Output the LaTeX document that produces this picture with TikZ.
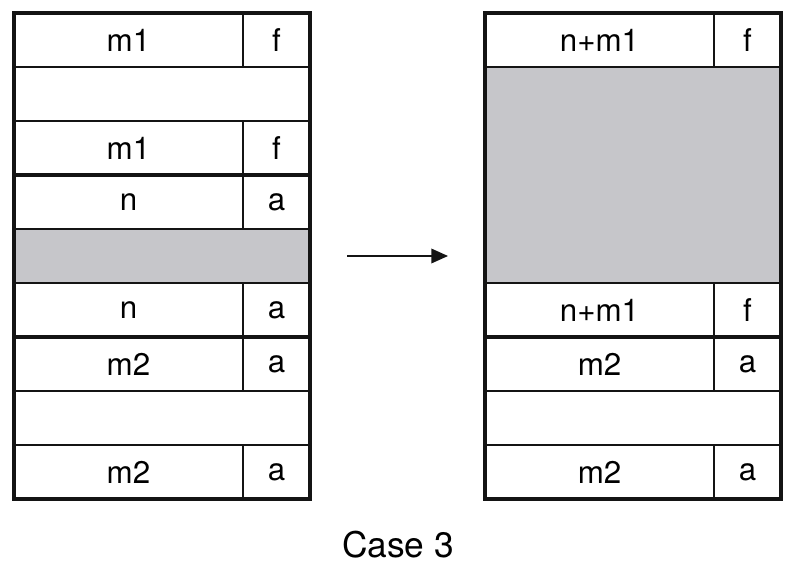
\documentclass[tikz,border=0pt]{standalone}
\usepackage{fontspec}
\setmainfont{TeX Gyre Heros}
\usepackage{xcolor}
\definecolor{memgray}{RGB}{198,198,202}
\definecolor{memline}{RGB}{20,20,20}
\usetikzlibrary{arrows.meta}

\tikzset{
  cell/.style={draw=memline, line width=0.8pt, inner sep=0pt, outer sep=0pt,
    minimum height=40.5pt, anchor=north west, font=\fontsize{23.5}{28}\selectfont},
  sizecell/.style={cell, minimum width=171.75pt},
  flagcell/.style={cell, minimum width=50.25pt},
  gapcell/.style={cell, minimum width=222pt},
  freecell/.style={gapcell, fill=memgray},
  blockline/.style={draw=memline, line width=3pt},
}

\begin{document}
\begin{tikzpicture}[x=0.75pt, y=-0.75pt]
  \useasboundingbox (0,0) rectangle (798,570);

  % --- Left: before merge ---
  % block m1 (free)
  \node[sizecell] (l1) at (14,13) {m1};
  \node[flagcell] (l1f) at (243,13) {f};
  \node[gapcell]  (l2) at (14,67) {};
  \node[sizecell] (l3) at (14,121) {m1};
  \node[flagcell] (l3f) at (243,121) {f};

  % block n (allocated, being freed)
  \node[sizecell] (l4) at (14,175) {n};
  \node[flagcell] (l4f) at (243,175) {a};
  \node[freecell] (l5) at (14,229) {};
  \node[sizecell] (l6) at (14,283) {n};
  \node[flagcell] (l6f) at (243,283) {a};

  % block m2 (allocated)
  \node[sizecell] (l7) at (14,337) {m2};
  \node[flagcell] (l7f) at (243,337) {a};
  \node[gapcell]  (l8) at (14,391) {};
  \node[sizecell] (l9) at (14,445) {m2};
  \node[flagcell] (l9f) at (243,445) {a};

  % block outlines
  \draw[blockline] (l1.north west) rectangle (l3f.south east);
  \draw[blockline] (l4.north west) rectangle (l6f.south east);
  \draw[blockline] (l7.north west) rectangle (l9f.south east);

  % --- Arrow ---
  \coordinate (arrS) at (347,256);
  \coordinate (arrE) at (448,256);
  \draw[line width=1pt, memline, -{Triangle[length=12.5pt, width=11pt]}] (arrS) -- (arrE);

  % --- Right: after merge ---
  % merged block n+m1 (free)
  \node[sizecell] (r1) at (485,13) {n+m1};
  \node[flagcell] (r1f) at (714,13) {f};
  \node[freecell, minimum height=162pt] (r2) at (485,67) {};
  \node[sizecell] (r3) at (485,283) {n+m1};
  \node[flagcell] (r3f) at (714,283) {f};

  % block m2 (allocated)
  \node[sizecell] (r4) at (485,337) {m2};
  \node[flagcell] (r4f) at (714,337) {a};
  \node[gapcell]  (r5) at (485,391) {};
  \node[sizecell] (r6) at (485,445) {m2};
  \node[flagcell] (r6f) at (714,445) {a};

  % block outlines
  \draw[blockline] (r1.north west) rectangle (r3f.south east);
  \draw[blockline] (r4.north west) rectangle (r6f.south east);

  % Caption
  \node[font=\fontsize{26.5}{32}\selectfont] (caption) at (398,545) {Case 3};
\end{tikzpicture}
\end{document}
